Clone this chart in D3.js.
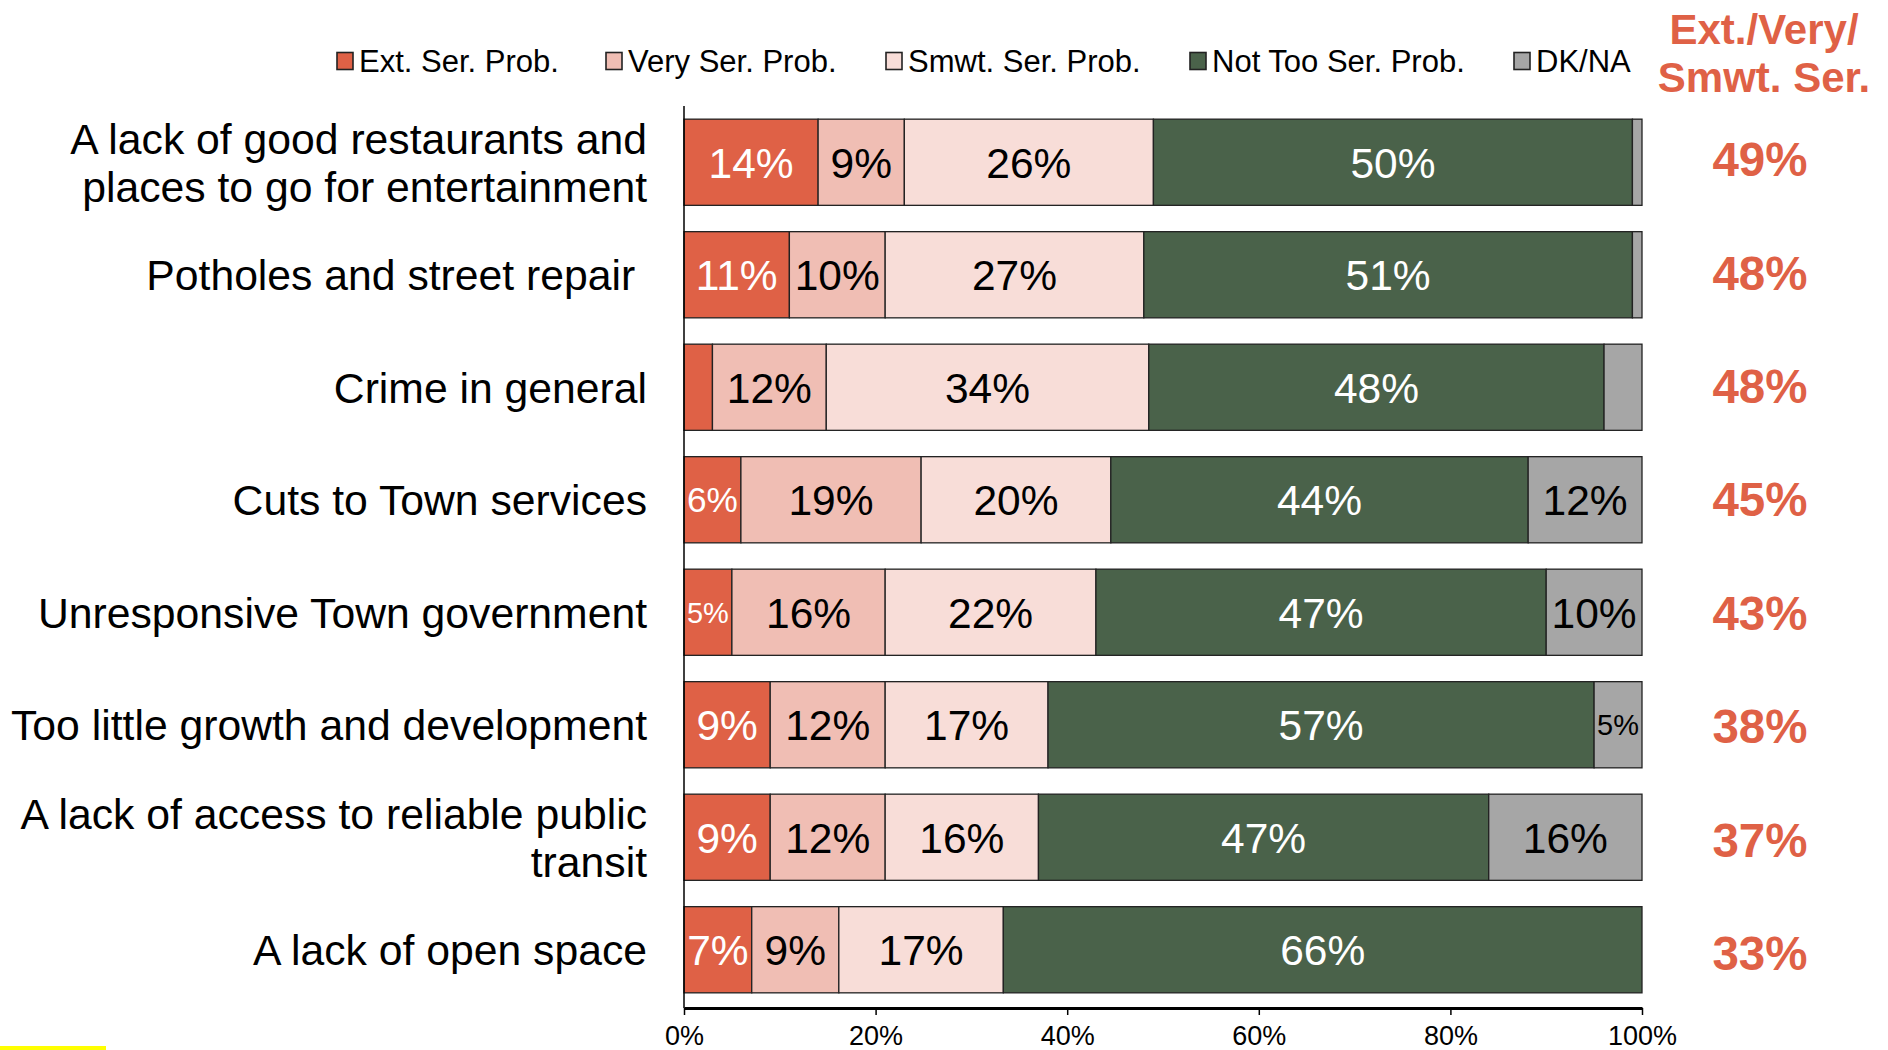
<!DOCTYPE html>
<html lang="en">
<head>
<meta charset="UTF-8">
<title>Town problems</title>
<script src="https://cdn.jsdelivr.net/npm/d3@7"></script>
<style>
  body{margin:0;background:#fff;}
  svg{font-family:"Liberation Sans",Arial,sans-serif;display:block;}
</style>
</head>
<body>
<div class="chart"></div>
<script>
// data
const categories = [
  "A lack of good restaurants and\nplaces to go for entertainment",
  "Potholes and street repair ",
  "Crime in general",
  "Cuts to Town services",
  "Unresponsive Town government",
  "Too little growth and development",
  "A lack of access to reliable public\ntransit",
  "A lack of open space"
]
const seriesNames = ["Ext. Ser. Prob.", "Very Ser. Prob.", "Smwt. Ser. Prob.", "Not Too Ser. Prob.", "DK/NA"]
const extSer   = [14, 11,  3,  6,  5,  9,  9,  7]
const verySer  = [ 9, 10, 12, 19, 16, 12, 12,  9]
const smwtSer  = [26, 27, 34, 20, 22, 17, 16, 17]
const notToo   = [50, 51, 48, 44, 47, 57, 47, 66]
const dkNa     = [ 1,  1,  4, 12, 10,  5, 16,  0]
const combined = [49, 48, 48, 45, 43, 38, 37, 33]
const combinedTitle = ["Ext./Very/", "Smwt. Ser."]
const xTicks = [0, 0.2, 0.4, 0.6, 0.8, 1]

const colors = ["#DF6146", "#F0BEB4", "#F8DDD8", "#4A624A", "#A6A6A6"]
const labelColors = ["#fff", "#000", "#000", "#fff", "#000"]
const red = "#DF6146"

const W = 1888, H = 1050
const plotLeft = 684, plotRight = 1642, plotTop = 106, plotBottom = 1008

const svg = d3.select('.chart').append('svg').attr('width', W).attr('height', H)

const x = d3.scaleLinear().domain([0, 1]).range([plotLeft, plotRight])
const y = d3.scaleBand().domain(categories).range([plotTop, plotBottom - 2]).paddingInner(0.234).paddingOuter(0.117)
// the totals column sits on its own slightly wider spacing
const yTot = d3.scalePoint().domain(categories).range([159, 953])

// stacked rows (100% stacked: normalise by row total)
const allSeries = [extSer, verySer, smwtSer, notToo, dkNa]
const rows = categories.map((c, i) => {
  const vals = allSeries.map(s => s[i])
  const total = d3.sum(vals)
  let cum = 0
  return vals.map((v, k) => {
    const seg = {cat: c, k: k, v: v, x0: cum / total, x1: (cum + v) / total}
    cum += v
    return seg
  })
})

const rowG = svg.append('g').selectAll('g').data(rows).join('g')

rowG.selectAll('rect').data(d => d.filter(s => s.v > 0)).join('rect')
  .attr('x', d => x(d.x0)).attr('y', d => y(d.cat))
  .attr('width', d => x(d.x1) - x(d.x0)).attr('height', y.bandwidth())
  .attr('fill', d => colors[d.k])
  .attr('stroke', '#222').attr('stroke-width', 1.3)

rowG.selectAll('text').data(d => d.filter(s => s.v >= 5)).join('text')
  .attr('x', d => (x(d.x0) + x(d.x1)) / 2)
  .attr('y', d => y(d.cat) + y.bandwidth() / 2)
  .attr('text-anchor', 'middle').attr('dy', '0.36em')
  .attr('fill', d => labelColors[d.k])
  .attr('font-size', 42.5)
  .text(d => d.v + '%')
  .each(function (d) {
    const avail = x(d.x1) - x(d.x0) - 6
    const len = this.getComputedTextLength()
    if (len > avail) d3.select(this).attr('font-size', 42.5 * avail / len)
  })

// y axis line + category labels
svg.append('line').attr('x1', plotLeft).attr('x2', plotLeft).attr('y1', plotTop).attr('y2', plotBottom)
  .attr('stroke', '#000').attr('stroke-width', 1.5)

const catLabels = svg.append('g').selectAll('text').data(categories).join('text')
  .attr('x', 647).attr('text-anchor', 'end').attr('font-size', 42.7).attr('fill', '#000')
  .style('white-space', 'pre')
catLabels.each(function (c) {
  const lines = c.split('\n')
  const cy = y(c) + y.bandwidth() / 2
  const lh = 48
  d3.select(this).selectAll('tspan').data(lines).join('tspan')
    .attr('x', 647)
    .attr('y', (l, j) => cy + (j - (lines.length - 1) / 2) * lh)
    .attr('dy', '0.36em')
    .text(l => l)
})

// x axis
const xAxis = d3.axisBottom(x).tickValues(xTicks).tickFormat(d3.format('.0%')).tickSize(7).tickSizeOuter(0).tickPadding(11)
const gx = svg.append('g').attr('transform', 'translate(0,' + plotBottom + ')').call(xAxis)
gx.select('.domain').attr('stroke', '#000').attr('stroke-width', 3)
gx.selectAll('.tick line').attr('stroke', '#000').attr('stroke-width', 1.5)
gx.selectAll('.tick text').attr('font-size', 27).attr('fill', '#000').attr('font-family', '"Liberation Sans",Arial,sans-serif')

// combined column
svg.append('g').selectAll('text').data(combined).join('text')
  .attr('x', 1760).attr('y', (d, i) => yTot(categories[i]))
  .attr('dy', '0.36em').attr('text-anchor', 'middle')
  .attr('font-size', 47.5).attr('font-weight', 'bold').attr('fill', red)
  .text(d => d + '%')

svg.append('g').selectAll('text').data(combinedTitle).join('text')
  .attr('x', 1764).attr('y', (d, i) => 29 + i * 48)
  .attr('dy', '0.36em').attr('text-anchor', 'middle')
  .attr('font-size', 42).attr('font-weight', 'bold').attr('fill', red)
  .text(d => d)

// legend
const legendX = [337, 606, 886, 1190, 1514]
const legend = svg.append('g').attr('transform', 'translate(0,61)')
seriesNames.forEach((name, k) => {
  const item = legend.append('g').attr('transform', 'translate(' + legendX[k] + ',0)')
  item.append('rect').attr('x', 0).attr('y', -8.5).attr('width', 16).attr('height', 17)
    .attr('fill', colors[k]).attr('stroke', '#222').attr('stroke-width', 1.6)
  item.append('text').attr('x', 22).attr('dy', '0.36em')
    .attr('font-size', 31).attr('fill', '#000').text(name)
})

// yellow mark at bottom left
svg.append('rect').attr('x', 0).attr('y', 1046).attr('width', 106).attr('height', 4).attr('fill', '#FFFF00')
</script>
</body>
</html>
